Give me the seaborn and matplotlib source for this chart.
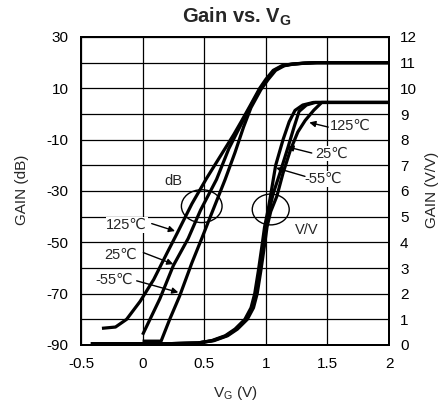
import matplotlib
matplotlib.use("Agg")
import matplotlib.pyplot as plt
from matplotlib.patches import Ellipse
import seaborn as sns
import pandas as pd

# ---------------- data ----------------
# Gain in dB (left axis)
db_125_x = [-0.33, -0.22, -0.13, -0.02, 0.09, 0.20, 0.28, 0.40, 0.52, 0.63, 0.74, 0.80, 0.87, 0.95, 1.00, 1.06, 1.13, 1.20, 1.30, 1.40, 2.00]
db_125_y = [-83.5, -83.0, -80.0, -73.0, -64.5, -54.0, -46.5, -35.0, -25.0, -16.5, -8.0, -3.0, 3.0, 10.0, 13.5, 17.0, 18.8, 19.4, 19.8, 20.0, 20.0]
db_25_x = [0.00, 0.14, 0.25, 0.37, 0.47, 0.60, 0.70, 0.80, 0.87, 0.95, 1.01, 1.07, 1.14, 1.21, 1.31, 1.41, 2.00]
db_25_y = [-86.0, -72.0, -59.0, -48.5, -37.5, -25.5, -13.5, -4.0, 2.5, 9.5, 13.5, 17.0, 18.8, 19.4, 19.8, 20.0, 20.0]
db_m55_x = [0.00, 0.15, 0.22, 0.30, 0.40, 0.48, 0.55, 0.67, 0.75, 0.82, 0.88, 0.96, 1.02, 1.08, 1.15, 1.22, 1.32, 1.42, 2.00]
db_m55_y = [-88.5, -88.5, -80.0, -71.0, -58.0, -48.5, -40.0, -25.5, -15.0, -5.0, 2.5, 9.5, 13.5, 17.0, 18.8, 19.4, 19.8, 20.0, 20.0]

# Gain in V/V (right axis)
vv_m55_x = [-0.42, 0.20, 0.45, 0.56, 0.67, 0.75, 0.83, 0.88, 0.91, 0.94, 0.97, 0.99, 1.02, 1.045, 1.08, 1.14, 1.19, 1.237, 1.30, 1.386, 2.00]
vv_m55_y = [0.05, 0.05, 0.08, 0.17, 0.36, 0.62, 1.00, 1.45, 2.00, 2.90, 3.90, 4.60, 5.30, 6.00, 7.00, 8.00, 8.70, 9.14, 9.35, 9.45, 9.45]
vv_25_x = [-0.42, 0.20, 0.45, 0.57, 0.68, 0.76, 0.84, 0.89, 0.92, 0.95, 0.98, 1.00, 1.03, 1.06, 1.115, 1.18, 1.23, 1.27, 1.33, 1.40, 2.00]
vv_25_y = [0.05, 0.05, 0.08, 0.17, 0.36, 0.62, 1.00, 1.45, 2.00, 2.90, 3.90, 4.60, 5.30, 5.90, 6.70, 7.70, 8.50, 9.10, 9.35, 9.45, 9.45]
vv_125_x = [-0.42, 0.20, 0.45, 0.58, 0.69, 0.77, 0.85, 0.90, 0.93, 0.96, 0.99, 1.01, 1.04, 1.09, 1.14, 1.20, 1.26, 1.32, 1.39, 1.454, 2.00]
vv_125_y = [0.05, 0.05, 0.08, 0.17, 0.36, 0.62, 1.00, 1.45, 2.00, 2.90, 3.90, 4.60, 5.20, 5.80, 6.70, 7.60, 8.30, 8.75, 9.15, 9.45, 9.45]

x_ticks = [-0.5, 0, 0.5, 1, 1.5, 2]
x_tick_labels = ["-0.5", "0", "0.5", "1", "1.5", "2"]
db_ticks = [-90, -80, -70, -60, -50, -40, -30, -20, -10, 0, 10, 20, 30]
db_tick_labels = ["-90", "", "-70", "", "-50", "", "-30", "", "-10", "", "10", "", "30"]
vv_ticks = list(range(0, 13))
vv_tick_labels = [str(v) for v in vv_ticks]

# ---------------- style ----------------
sns.set_theme(style="white")
plt.rcParams["font.family"] = ["Liberation Sans", "DejaVu Sans"]
plt.rcParams["mathtext.fontset"] = "custom"
plt.rcParams["mathtext.rm"] = "Liberation Sans"
plt.rcParams["mathtext.it"] = "Liberation Sans"
plt.rcParams["mathtext.bf"] = "Liberation Sans:bold"

fig = plt.figure(figsize=(4.44, 4.09), dpi=100)
fig.patch.set_facecolor("white")
ax = fig.add_axes([81 / 444, 1 - 345 / 409, 308 / 444, 308 / 409])
ax2 = ax.twinx()

LW = 2.3
for xs, ys in [(db_125_x, db_125_y), (db_25_x, db_25_y), (db_m55_x, db_m55_y)]:
    df = pd.DataFrame({"x": xs, "y": ys})
    sns.lineplot(data=df, x="x", y="y", ax=ax, color="black", lw=LW, sort=False,
                 estimator=None, solid_capstyle="butt")
for xs, ys in [(vv_m55_x, vv_m55_y), (vv_25_x, vv_25_y), (vv_125_x, vv_125_y)]:
    df = pd.DataFrame({"x": xs, "y": ys})
    sns.lineplot(data=df, x="x", y="y", ax=ax2, color="black", lw=LW, sort=False,
                 estimator=None, solid_capstyle="butt")

ax.set_xlim(-0.5, 2)
ax.set_ylim(-90, 30)
ax2.set_ylim(0, 12)

ax.set_xticks(x_ticks)
ax.set_xticklabels(x_tick_labels, fontsize=11)
ax.set_yticks(db_ticks)
ax.set_yticklabels(db_tick_labels, fontsize=11)
ax2.set_yticks(vv_ticks)
ax2.set_yticklabels(vv_tick_labels, fontsize=11)

ax.tick_params(axis="both", length=0, colors="black")
ax.tick_params(axis="y", pad=9)
ax.tick_params(axis="x", pad=9)
ax2.tick_params(axis="y", length=0, pad=8, colors="black")

ax.grid(True, color="black", lw=0.9)
ax2.grid(False)
ax.set_axisbelow(True)
for a in (ax, ax2):
    for s in a.spines.values():
        s.set_color("black")
        s.set_linewidth(1.4)
        s.set_visible(True)

ax.set_xlabel("")
ax.set_ylabel("")
ax2.set_ylabel("")
fig.text(235 / 444, 1 - 393 / 409, "V$_G$ (V)", fontsize=11, ha="center", va="center")
fig.text(22 / 444, 1 - 190 / 409, "GAIN (dB)", fontsize=11, ha="center", va="center",
         rotation=90)
fig.text(432 / 444, 1 - 190 / 409, "GAIN (V/V)", fontsize=11, ha="center", va="center",
         rotation=90)

fig.text(237 / 444, 1 - 17 / 409, r"Gain vs. V$_\mathbf{G}$", ha="center", va="center",
         fontsize=14.5, fontweight="bold")

# ---------------- annotations (in dB-axis data coords) ----------------
ax.add_patch(Ellipse((0.48, -35.9), 0.33, 12.8, fill=False, ec="black", lw=1.0, zorder=5))
ax.add_patch(Ellipse((1.04, -37.2), 0.30, 12.0, fill=False, ec="black", lw=1.0, zorder=5))
ax.text(0.25, -26.2, "dB", fontsize=10.5, ha="center", va="center",
        bbox=dict(fc="white", ec="none", pad=0.5), zorder=6)
ax.text(1.33, -45.0, "V/V", fontsize=10.5, ha="center", va="center", zorder=6)

labels = [
    ("125℃", (-0.129, -43.3), (0.074, -42.7), (0.263, -45.6)),
    ("25℃", (-0.178, -55.0), (0.006, -54.0), (0.249, -58.5)),
    ("-55℃", (-0.232, -64.6), (-0.048, -65.0), (0.290, -69.5)),
    ("125℃", (1.683, -4.6), (1.507, -5.1), (1.353, -3.3)),
    ("25℃", (1.535, -15.4), (1.373, -15.2), (1.175, -12.8)),
    ("-55℃", (1.467, -25.3), (1.318, -24.3), (1.083, -21.0)),
]
for txt, tpos, tail, head in labels:
    ax.text(tpos[0], tpos[1], txt, fontsize=10.5, ha="center", va="center",
            bbox=dict(fc="white", ec="none", pad=0.5), zorder=6)
    ax.annotate("", xy=head, xytext=tail,
                arrowprops=dict(arrowstyle="-|>", color="black", lw=1.0,
                                mutation_scale=9, shrinkA=0, shrinkB=0), zorder=7)

fig.savefig("out.png", dpi=100, facecolor="white")
